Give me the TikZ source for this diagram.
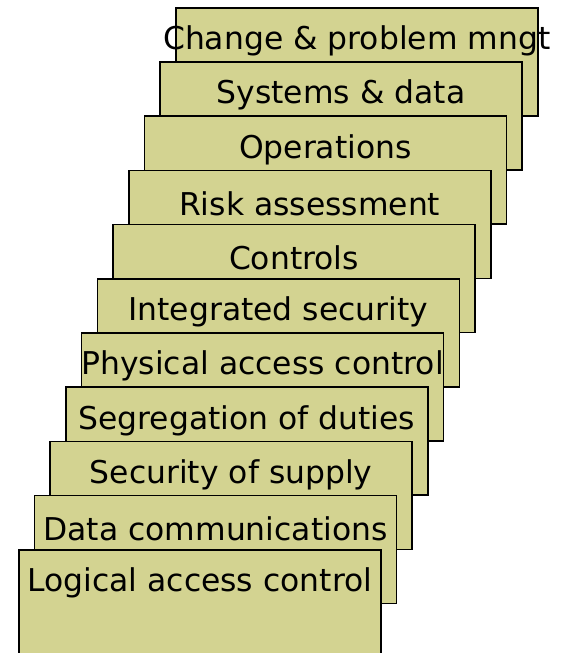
\documentclass[tikz,border=0pt]{standalone}
\usepackage{fontspec}
\setmainfont{DejaVu Sans}
\usepackage{tikz}
\usetikzlibrary{calc}
\definecolor{boxfill}{RGB}{211,211,145}
\tikzset{
	layer/.style={draw=black, line width=1.6pt, fill=boxfill, rectangle, anchor=north west, minimum width=362pt, minimum height=108pt, inner sep=0pt},
	layertext/.style={inner sep=0pt, font=\fontsize{31.4}{36}\selectfont}
}

\begin{document}
\begin{tikzpicture}[x=1pt, y=-1pt]
			%%%%% START %%%%%
			
			\useasboundingbox (0, 0) rectangle (569, 653);
			\clip (0, 0) rectangle (569, 653);
			
			\foreach \i/\txt in {0/Change \& problem mngt, 1/Systems \& data, 2/Operations, 3/Risk assessment, 4/Controls, 5/Integrated security, 6/Physical access control, 7/Segregation of duties, 8/Security of supply, 9/Data communications, 10/Logical access control}{
				\node[layer] (box\i) at ({175 - 15.7*\i}, {7 + 54.2*\i}) {};
				\node[layertext] (lbl\i) at ($(box\i.north) + (0, 34)$) {\txt};
			}
			
			%%%%% END %%%%%
		\end{tikzpicture}
\end{document}
